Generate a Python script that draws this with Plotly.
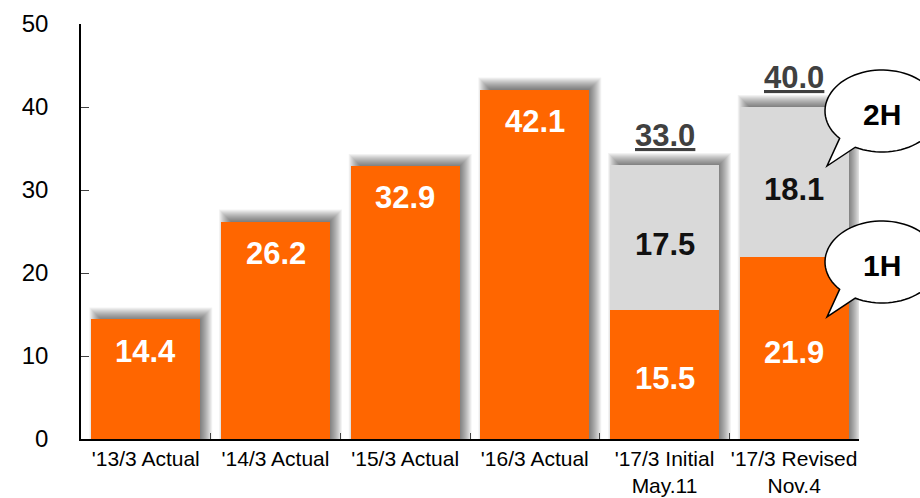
import numpy as np
import plotly.graph_objects as go

# ---- data -------------------------------------------------------------
categories = [
    "'13/3 Actual",
    "'14/3 Actual",
    "'15/3 Actual",
    "'16/3 Actual",
    "'17/3 Initial<br>May.11",
    "'17/3 Revised<br>Nov.4",
]
first_half = [14.4, 26.2, 32.9, 42.1, 15.5, 21.9]   # full year / 1H
second_half = [None, None, None, None, 17.5, 18.1]  # 2H forecast
y_ticks = [0, 10, 20, 30, 40, 50]

# ---- style / layout constants ----------------------------------------
ORANGE = "#FF6600"
GRAY = "#D9D9D9"
FONT = "Liberation Sans, Arial, sans-serif"
W, H = 920, 498
ML, MR, MT, MB = 81, 61, 24, 59
PW, PH = W - ML - MR, H - MT - MB
Y_MAX = 50
BAR_W = 0.84
N = len(categories)

# one screen pixel expressed in data units
PX_X = N / PW
PX_Y = Y_MAX / PH


def to_paper(px, py):
    return (px - ML) / PW, (H - MB - py) / PH


fig = go.Figure()
fig.add_bar(x=categories, y=first_half, marker_color=ORANGE,
            marker_line_width=0, width=BAR_W, hoverinfo="skip")
fig.add_bar(x=categories, y=second_half, marker_color=GRAY,
            marker_line_width=0, width=BAR_W, hoverinfo="skip")

shapes = []
annotations = []

# soft drop shadow behind each bar (stacked translucent rectangles)
SH_OFF = 5
for i in range(N):
    total = first_half[i] + (second_half[i] or 0)
    left, right = i - BAR_W / 2, i + BAR_W / 2
    for e in range(-5, 8):
        shapes.append(dict(
            type="rect", xref="x", yref="y", layer="below",
            x0=left + (SH_OFF - e) * PX_X, x1=right + (SH_OFF + e) * PX_X,
            y0=0, y1=total + (SH_OFF + e) * PX_Y,
            fillcolor="rgba(0,0,0,0.05)", line_width=0,
        ))

# value labels
for i, cat in enumerate(categories):
    v1, v2 = first_half[i], second_half[i]
    if v2 is None:
        annotations.append(dict(
            x=cat, y=v1, yshift=-32, text=f"{v1:.1f}", showarrow=False,
            font=dict(family=FONT, size=31, color="white", weight="bold")))
    else:
        annotations.append(dict(
            x=cat, y=v1 / 2, yshift=-4, text=f"{v1:.1f}", showarrow=False,
            font=dict(family=FONT, size=31, color="white", weight="bold")))
        annotations.append(dict(
            x=cat, y=v1 + v2 / 2, yshift=-7, text=f"{v2:.1f}", showarrow=False,
            font=dict(family=FONT, size=31, color="#111111", weight="bold")))
        annotations.append(dict(
            x=cat, y=v1 + v2, yshift=30, text=f"<u>{v1 + v2:.1f}</u>",
            showarrow=False,
            font=dict(family=FONT, size=31, color="#404040", weight="bold")))


# speech-bubble callouts for the 1H / 2H segments
def bubble(cx, cy, rx, ry, gap_from, gap_to, tip):
    angs = np.radians(np.linspace(gap_to, gap_from + 360, 80))
    pts = [(cx + rx * np.cos(a), cy + ry * np.sin(a)) for a in angs]
    pts.append(tip)
    pp = [to_paper(x, y) for x, y in pts]
    return "M " + " L ".join(f"{x:.4f},{y:.4f}" for x, y in pp) + " Z"


for label, cy in (("2H", 111), ("1H", 262)):
    cx = 882
    shapes.append(dict(
        type="path", xref="paper", yref="paper", layer="above",
        path=bubble(cx, cy, 57, 41, 118, 138, (cx - 55, cy + 55)),
        fillcolor="white", line=dict(color="black", width=1.5)))
    tx, ty = to_paper(cx, cy + 3)
    annotations.append(dict(
        x=tx, y=ty, xref="paper", yref="paper", text=label, showarrow=False,
        xanchor="center", yanchor="middle",
        font=dict(family=FONT, size=30, color="black", weight="bold")))

fig.update_layout(
    width=W, height=H,
    margin=dict(l=ML, r=MR, t=MT, b=MB, pad=0, autoexpand=False),
    barmode="stack", showlegend=False,
    plot_bgcolor="white", paper_bgcolor="white",
    font=dict(family=FONT, color="black"),
    shapes=shapes, annotations=annotations,
    xaxis=dict(
        type="category", range=[-0.5, N - 0.5], automargin=False,
        showline=True, linecolor="black", linewidth=1.5,
        ticks="inside", tickson="boundaries", ticklen=6,
        tickcolor="#404040", showgrid=False, tickangle=0,
        tickfont=dict(family=FONT, size=21, color="black"),
    ),
    yaxis=dict(
        range=[0, Y_MAX], tickvals=y_ticks, automargin=False,
        showline=True, linecolor="black", linewidth=1.5,
        ticks="inside", ticklen=8, tickcolor="#404040",
        showgrid=False, zeroline=False,
        tickfont=dict(family=FONT, size=24, color="black"),
        ticklabelstandoff=26,
    ),
)

fig.write_html("out.html")
